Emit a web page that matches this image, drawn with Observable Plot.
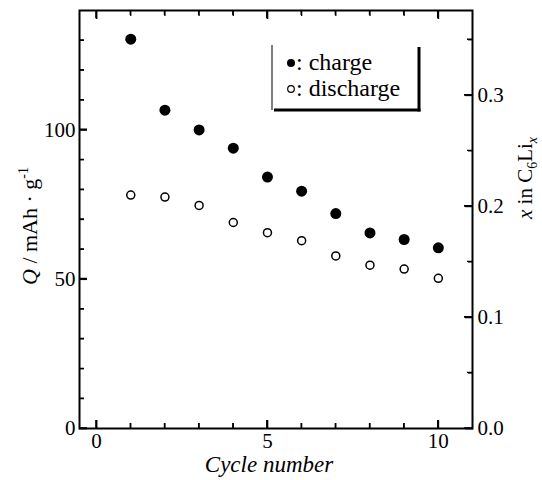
<!DOCTYPE html>
<html><head>
<meta charset="utf-8">
<script src="https://cdn.jsdelivr.net/npm/d3@7"></script>
<script src="https://cdn.jsdelivr.net/npm/@observablehq/plot@0.6"></script>
<style>body{margin:0;background:#fff;} #chart svg{display:block;}</style>
</head><body><div id="chart"></div>
<script>
const cycles = [1, 2, 3, 4, 5, 6, 7, 8, 9, 10];
const charge = [130.4, 106.6, 100.0, 93.9, 84.2, 79.5, 72.0, 65.5, 63.3, 60.5];
const discharge = [78.2, 77.5, 74.7, 69.0, 65.6, 62.9, 57.8, 54.7, 53.4, 50.3];
const xMajor = [0, 5, 10];
const xMinor = [1, 2, 3, 4, 6, 7, 8, 9];
const yMajor = [0, 50, 100];
const yMinor = [10, 20, 30, 40, 60, 70, 80, 90, 110, 120, 130];
const rMajor = [0, 0.1, 0.2, 0.3];
const rMinor = [0.05, 0.15, 0.25, 0.35];
const THEO = 372; // mAh/g for LiC6 (x = 1)

const W = 542, H = 480, ML = 79, MR = 70, MT = 10, MB = 52;
const xDomain = [-0.5, 11], yDomain = [0, 140];
const blank = () => "";

const data = cycles.map((c, i) => ({cycle: c, charge: charge[i], discharge: discharge[i]}));

// inward ticks: Plot axis ticks of positive length shifted back inside the frame
const inX = (vals, anchor, len, sw) => Plot.axisX(vals, {anchor, tickSize: len, dy: anchor === "bottom" ? -len : len, tickFormat: blank, label: null, stroke: "#000", strokeWidth: sw});
const inY = (vals, anchor, len, sw) => Plot.axisY(vals, {anchor, tickSize: len, dx: anchor === "left" ? len : -len, tickFormat: blank, label: null, stroke: "#000", strokeWidth: sw});

const chart = Plot.plot({
  width: W, height: H,
  marginLeft: ML, marginRight: MR, marginTop: MT, marginBottom: MB,
  style: {fontFamily: "'Liberation Serif', 'Times New Roman', serif", fontSize: "21px", color: "#000", background: "#fff"},
  x: {domain: xDomain},
  y: {domain: yDomain},
  marks: [
    Plot.axisX(xMajor, {anchor: "bottom", tickSize: 0, tickPadding: 5, label: null}),
    Plot.axisY(yMajor, {anchor: "left", tickSize: 0, tickPadding: 4, label: null}),
    Plot.axisY(rMajor.map(v => v * THEO), {anchor: "right", tickSize: 0, tickPadding: 5, label: null, tickFormat: d => (d / THEO).toFixed(1)}),
    inX(xMajor, "bottom", 8, 1.7), inX(xMinor, "bottom", 5, 1.3),
    inX(xMajor, "top", 8, 1.7), inX(xMinor, "top", 5, 1.3),
    inY(yMajor, "left", 8, 1.7), inY(yMinor, "left", 5, 1.3),
    inY(rMajor.map(v => v * THEO), "right", 8, 1.7), inY(rMinor.map(v => v * THEO), "right", 5, 1.3),
    Plot.frame({stroke: "#000", strokeWidth: 2}),
    Plot.dot(data, {x: "cycle", y: "charge", r: 5.5, fill: "#000", stroke: "none"}),
    Plot.dot(data, {x: "cycle", y: "discharge", r: 4, fill: "#fff", stroke: "#000", strokeWidth: 1.5})
  ]
});
document.getElementById("chart").appendChild(chart);

const svg = d3.select(chart);
const ff = "'Liberation Serif', 'Times New Roman', serif";
const fb = {x: d3.scaleLinear(xDomain, [ML, W - MR]), y: d3.scaleLinear(yDomain, [H - MB, MT])};
const px = (name, v) => {
  let r;
  try { r = chart.scale(name).apply(v); } catch (e) { r = NaN; }
  if (!Number.isFinite(+r)) r = fb[name](v);
  return +r;
};
const x0 = ML, x1 = W - MR, y0 = H - MB, y1 = MT;

// the same inward ticks as explicit paths (coincide with the axis ticks above)
const tickPath = (segs, sw) => svg.append("path").attr("d", segs.join(" ")).attr("fill", "none")
  .attr("stroke", "black").attr("stroke-width", sw);
const xSegs = (vals, len) => vals.flatMap(v => { const x = px("x", v); return [`M${x},${y0}L${x},${y0 - len}`, `M${x},${y1}L${x},${y1 + len}`]; });
const ySegs = (vals, side, len) => vals.map(v => { const y = px("y", v); return side === "left" ? `M${x0},${y}L${x0 + len},${y}` : `M${x1},${y}L${x1 - len},${y}`; });
tickPath(xSegs(xMajor, 8), 1.7);
tickPath(xSegs(xMinor, 5), 1.3);
tickPath(ySegs(yMajor, "left", 8), 1.7);
tickPath(ySegs(yMinor, "left", 5), 1.3);
tickPath(ySegs(rMajor.map(v => v * THEO), "right", 8), 1.7);
tickPath(ySegs(rMinor.map(v => v * THEO), "right", 5), 1.3);

// x-axis title
svg.append("text").attr("x", 269).attr("y", 472).attr("text-anchor", "middle")
  .attr("font-family", ff).attr("font-size", 23).attr("font-style", "italic").attr("fill", "#000")
  .text("Cycle number");

// left y-axis title
const lt = svg.append("text").attr("transform", "translate(37,226) rotate(-90)").attr("text-anchor", "middle")
  .attr("font-family", ff).attr("font-size", 22).attr("fill", "#000");
lt.append("tspan").attr("font-style", "italic").text("Q");
lt.append("tspan").text(" / mAh \u00b7 g");
lt.append("tspan").attr("dy", -9).attr("font-size", 14).text("-1");

// right y-axis title
const rt = svg.append("text").attr("transform", "translate(532,178) rotate(-90)").attr("text-anchor", "middle")
  .attr("font-family", ff).attr("font-size", 21).attr("fill", "#000");
rt.append("tspan").attr("font-style", "italic").text("x");
rt.append("tspan").text(" in C");
rt.append("tspan").attr("dy", 5).attr("font-size", 14).text("6");
rt.append("tspan").attr("dy", -5).text("Li");
rt.append("tspan").attr("dy", 5).attr("font-size", 14).attr("font-style", "italic").text("x");

// legend
const lg = svg.append("g");
lg.append("line").attr("x1", 272).attr("y1", 45).attr("x2", 272).attr("y2", 110).attr("stroke", "#000").attr("stroke-width", 1);
lg.append("line").attr("x1", 419).attr("y1", 47).attr("x2", 419).attr("y2", 111.5).attr("stroke", "#000").attr("stroke-width", 3);
lg.append("line").attr("x1", 274).attr("y1", 110).attr("x2", 420.5).attr("y2", 110).attr("stroke", "#000").attr("stroke-width", 3);
lg.append("circle").attr("cx", 291).attr("cy", 63).attr("r", 4).attr("fill", "#000");
lg.append("circle").attr("cx", 291).attr("cy", 89).attr("r", 3.3).attr("fill", "#fff").attr("stroke", "#000").attr("stroke-width", 1.2);
lg.append("text").attr("x", 296).attr("y", 70).attr("text-anchor", "start").attr("font-family", ff).attr("font-size", 24).attr("fill", "#000").text(": charge");
lg.append("text").attr("x", 296).attr("y", 96).attr("text-anchor", "start").attr("font-family", ff).attr("font-size", 24).attr("fill", "#000").text(": discharge");
</script>
</body></html>
